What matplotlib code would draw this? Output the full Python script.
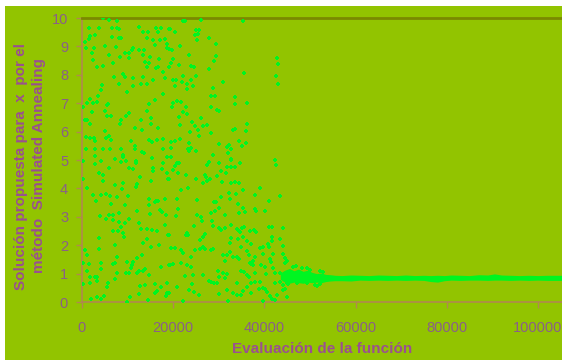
# -*- coding: utf-8 -*-

import matplotlib
matplotlib.use('Agg')
import matplotlib.pyplot as plt
from matplotlib.patches import Rectangle
from matplotlib.ticker import MultipleLocator, FormatStrFormatter


# Proposed solution (x) per function evaluation.
# Evaluations are in thousands.
evals_k = [
    4.68, 5.99, 7.60, 1.53, 3.80, 6.58, 7.75, 8.19, 12.50, 16.15, 17.40, 19.15,
    13.45, 14.55, 16.74, 0.58, 1.75, 1.61, 2.78, 6.50, 8.11, 8.48, 14.33, 15.50,
    17.10, 18.13, 18.57, 16.08, 5.12, 0.88, 2.63, 7.45, 11.26, 10.89, 12.43, 13.60,
    18.71, 2.19, 5.85, 8.33, 9.36, 10.38, 10.23, 13.45, 14.91, 2.34, 6.87, 13.89,
    14.62, 16.81, 3.22, 4.68, 14.33, 16.23, 16.67, 19.00, 17.84, 8.92, 7.02, 9.50,
    11.26, 13.45, 15.64, 18.27, 4.38, 8.19, 11.26, 12.86, 14.18, 4.09, 3.51, 9.94,
    17.69, 1.75, 1.02, 2.34, 3.22, 15.93, 14.76, 0.14, 5.41, 5.70, 4.97, 2.19,
    14.33, 10.23, 9.65, 5.41, 6.29, 0.73, 1.17, 1.75, 8.48, 12.86, 15.06, 8.33,
    15.06, 11.55, 16.67, 4.97, 13.16, 0.88, 2.63, 5.99, 1.75, 5.26, 2.92, 6.29,
    10.82, 14.62, 15.35, 16.52, 17.69, 0.88, 2.78, 4.68, 6.14, 8.62, 11.55, 11.69,
    13.16, 13.60, 17.84, 2.92, 8.92, 8.92, 18.71, 7.31, 15.35,
    22.08, 22.66, 26.02, 35.38, 19.30, 20.32, 25.00, 25.73, 24.85, 25.44, 27.92,
    25.15, 29.39, 21.49, 19.15, 19.74, 23.39, 29.39, 19.88, 28.95, 19.01, 19.59,
    21.35, 23.83, 24.56, 27.78, 35.53, 25.00, 22.08, 20.03, 20.61, 23.98, 30.99,
    21.93, 23.10, 24.27, 20.32, 22.95, 28.66, 28.36, 29.09, 33.63, 20.91, 19.88,
    21.78, 33.48, 36.11, 22.81, 19.74, 22.22, 22.95, 28.22, 29.68, 29.97, 26.17,
    21.35, 24.12, 36.26, 21.49, 24.71, 26.46, 27.34, 25.44, 33.19, 33.63, 35.97,
    23.68, 25.59, 28.22, 21.49, 19.59, 20.32, 23.54, 34.50, 30.12, 32.31, 31.87,
    35.97, 35.09, 19.59, 23.25, 23.83, 25.00, 23.54, 32.60, 32.02, 28.80, 19.59,
    32.75,
    0.14, 2.78, 4.09, 7.16, 8.48, 9.65, 11.84, 11.84, 17.84, 15.64, 15.50, 17.54,
    18.71, 5.85, 10.23, 11.26, 3.80, 4.53, 4.53, 12.72, 0.14, 7.16, 9.06, 8.77,
    12.13, 11.84, 15.20, 18.86, 1.02, 2.48, 3.07, 5.26, 4.24, 6.14, 7.75, 10.09,
    6.43, 9.50, 14.62, 16.67, 16.23, 15.93, 18.13, 14.62, 17.10, 17.54, 18.42,
    11.99, 8.04, 6.87, 5.99, 3.95, 5.26, 6.72, 14.91, 10.38, 8.19, 12.43, 9.36,
    8.62, 13.01, 14.18, 15.35, 16.52, 6.72, 7.89, 9.06, 18.86, 9.21, 3.65, 14.18,
    18.27, 13.30, 7.16, 15.20, 16.96, 0.73, 1.02, 3.65, 7.75, 13.16, 11.99, 9.94,
    11.26, 10.96, 0.29, 1.46, 4.24, 6.72, 7.16, 10.67, 12.57, 13.30, 13.74, 17.40,
    19.00, 1.17, 4.09, 7.75, 9.65, 10.38, 12.13, 3.36, 2.78, 1.75, 7.31, 14.62,
    3.22, 1.75, 0.29, 5.70, 5.41, 12.72, 13.89, 15.93, 17.25, 18.57, 16.52, 16.08,
    18.71, 18.42, 12.57, 3.36, 4.82, 2.04, 4.24, 10.53, 9.94, 14.47,
    20.91, 21.35, 20.47, 20.03, 21.05, 19.01, 22.81, 25.00, 26.46, 27.05, 27.19,
    27.49, 28.07, 27.92, 27.49, 30.12, 32.75, 34.65, 31.73, 32.60, 33.63, 30.56,
    31.58, 29.68, 30.70, 32.60, 33.63, 34.36, 21.78, 23.25, 20.91, 25.29, 28.95,
    29.39, 30.12, 29.24, 28.22, 30.41, 32.31, 32.46, 33.77, 35.38, 38.01, 34.21,
    35.38, 35.82, 34.36, 38.01, 38.16, 21.05, 20.61, 25.15, 26.17, 26.32, 28.51,
    31.43, 28.80, 29.97, 30.56, 31.29, 32.75, 34.06, 34.36, 35.09, 35.53, 34.65,
    24.56, 26.90, 26.61, 25.88, 22.95, 22.81, 23.25, 19.01, 35.38, 36.84, 37.72,
    38.16, 32.60, 34.21, 36.11, 37.14, 34.80, 36.26, 36.55, 38.01, 37.57, 36.84,
    37.57, 32.46, 19.44, 20.32, 21.78, 22.08, 24.85, 25.88, 26.61, 26.90, 28.36,
    28.80, 23.98, 31.00, 31.87, 32.46, 33.19, 33.92, 31.43, 34.36, 21.64, 19.30,
    19.88, 22.95, 23.98, 36.99, 35.53, 34.94, 36.11, 36.70, 38.01, 31.00, 31.87,
    31.43, 30.12, 29.83, 26.46, 22.52, 24.42, 24.12, 28.36, 27.92, 28.95, 29.53,
    33.92, 36.99, 37.87, 36.11, 35.23, 37.14, 20.91, 23.39, 24.56, 25.73, 31.87,
    33.04, 34.06, 30.12, 34.94, 22.08, 32.02, 19.01,
    42.77, 43.06, 42.47, 42.91, 42.33, 42.47, 39.11, 43.43, 40.94, 40.21,
    41.08, 41.66, 44.00, 43.42, 41.66, 41.66, 44.00, 39.03, 39.76, 40.79, 41.08,
    39.76, 41.96, 44.15, 44.44, 41.23, 41.37, 44.88, 39.33, 40.06, 40.35, 41.96,
    42.40, 43.42, 39.03, 42.25, 43.42, 44.88, 44.00, 44.44, 39.76, 40.20, 40.50,
    38.74, 45.03, 41.66, 42.25, 39.62, 42.69, 41.23,
    44.52, 46.35, 46.93, 48.17, 49.27, 50.00, 52.20, 52.93,
    44.15, 45.25, 47.08, 49.27, 51.10, 52.20, 51.47,
]
values = [
    9.99, 9.92, 9.90, 9.64, 9.64, 9.66, 9.64, 9.62, 9.69, 9.66, 9.64, 9.62,
    9.52, 9.50, 9.50, 9.17, 9.38, 9.26, 9.41, 9.34, 9.29, 9.29, 9.29, 9.24,
    9.22, 9.26, 9.10, 9.05, 9.03, 8.94, 8.96, 8.98, 8.96, 8.89, 8.89, 8.89,
    8.94, 8.75, 8.70, 8.63, 8.75, 8.77, 8.58, 8.68, 8.61, 8.51, 8.40, 8.44,
    8.42, 8.54, 8.26, 8.30, 8.26, 8.23, 8.26, 8.28, 8.11, 8.04, 7.93, 7.93,
    7.88, 7.93, 7.83, 7.88, 7.64, 7.67, 7.62, 7.67, 7.67, 7.46, 7.25, 7.39,
    7.34, 7.15, 7.01, 7.01, 7.03, 7.13, 6.96, 6.87, 6.94, 6.96, 6.71, 6.68,
    6.73, 6.64, 6.54, 6.54, 6.54, 6.40, 6.40, 6.28, 6.42, 6.42, 6.49, 6.28,
    6.28, 6.14, 6.14, 6.02, 6.07, 5.81, 5.79, 5.86, 5.77, 5.77, 5.67, 5.70,
    5.67, 5.70, 5.63, 5.70, 5.74, 5.39, 5.39, 5.39, 5.39, 5.39, 5.51, 5.37,
    5.27, 5.25, 5.39, 5.13, 5.18, 5.09, 5.09, 5.04, 5.06,
    9.88, 9.90, 9.92, 9.88, 9.62, 9.50, 9.57, 9.59, 9.41, 9.45, 9.31,
    9.22, 9.08, 9.01, 8.91, 8.89, 8.70, 8.65, 8.56, 8.47, 8.26, 8.40,
    8.35, 8.30, 8.26, 8.21, 8.07, 7.97, 7.95, 7.83, 7.83, 7.81, 7.76,
    7.74, 7.69, 7.62, 7.60, 7.50, 7.53, 7.27, 7.27, 7.22, 7.06, 7.01,
    7.03, 6.96, 6.99, 6.85, 6.85, 6.68, 6.61, 6.85, 6.75, 6.71, 6.49,
    6.52, 6.33, 6.28, 6.24, 6.19, 6.19, 6.24, 6.05, 6.07, 6.10, 6.02,
    5.98, 5.86, 5.95, 5.74, 5.65, 5.67, 5.60, 5.67, 5.56, 5.53, 5.46,
    5.60, 5.51, 5.41, 5.39, 5.41, 5.32, 5.30, 5.37, 5.25, 5.18, 5.11,
    5.02,
    4.98, 4.86, 4.98, 5.02, 4.93, 4.95, 4.98, 4.91, 4.88, 4.72, 4.62, 4.69,
    4.55, 4.72, 4.72, 4.67, 4.53, 4.46, 4.27, 4.41, 4.32, 4.13, 4.20, 3.99,
    4.15, 4.04, 4.25, 4.32, 4.01, 3.76, 3.57, 3.80, 3.78, 3.73, 3.68, 3.73,
    3.45, 3.40, 3.64, 3.57, 3.54, 3.52, 3.64, 3.43, 3.24, 3.17, 3.07,
    3.22, 3.14, 3.05, 3.05, 3.03, 2.93, 2.89, 3.10, 2.91, 2.82, 2.77, 2.77,
    2.63, 2.56, 2.58, 2.53, 2.51, 2.51, 2.51, 2.42, 2.35, 2.30, 2.25, 2.23,
    2.72, 2.06, 2.02, 1.95, 2.02, 1.83, 1.67, 1.88, 1.60, 1.67, 1.55, 1.41,
    1.41, 1.29, 1.36, 1.34, 1.36, 1.34, 1.36, 1.20, 1.10, 1.08, 1.15, 1.24,
    1.31, 1.10, 1.17, 1.03, 1.01, 1.03, 1.01, 0.89, 0.87, 0.89, 0.82, 0.94,
    0.73, 0.66, 0.63, 0.66, 0.54, 0.56, 0.61, 0.63, 0.54, 0.66, 0.37, 0.30,
    0.33, 0.21, 0.28, 0.16, 0.21, 0.09, 0.09, 0.16, 0.00, 0.07,
    4.88, 4.88, 4.79, 4.65, 4.53, 4.32, 4.48, 4.34, 4.20, 4.48, 4.39,
    4.25, 4.34, 4.93, 4.84, 4.91, 5.00, 4.88, 4.74, 4.74, 4.74, 4.60,
    4.53, 4.44, 4.22, 4.20, 4.22, 4.18, 3.94, 4.01, 3.61, 3.59, 3.52,
    3.52, 3.31, 3.22, 3.12, 3.71, 3.85, 3.64, 3.80, 3.94, 3.76, 3.45,
    3.31, 3.17, 3.14, 3.29, 3.22, 3.26, 3.03, 3.05, 3.00, 2.86, 2.86,
    3.05, 2.68, 2.60, 2.53, 2.60, 2.72, 2.58, 2.51, 2.60, 2.65, 2.46,
    2.68, 2.39, 2.30, 2.18, 2.44, 2.37, 2.35, 2.35, 2.30, 2.51, 2.53,
    2.46, 2.25, 2.21, 2.16, 2.04, 1.95, 1.78, 1.64, 1.60, 1.45, 1.38,
    1.31, 2.06, 1.90, 1.90, 1.83, 1.74, 1.83, 1.88, 1.95, 1.85, 1.83,
    1.88, 1.60, 1.67, 1.67, 1.76, 1.57, 1.60, 1.43, 1.50, 1.36, 1.31,
    1.34, 1.31, 1.22, 1.34, 1.06, 1.10, 0.96, 0.87, 1.01, 1.01, 0.98,
    0.84, 0.89, 1.08, 0.94, 0.91, 0.94, 0.63, 0.70, 0.75, 0.66, 0.66,
    0.68, 0.68, 0.70, 0.52, 0.40, 0.33, 0.54, 0.42, 0.35, 0.26, 0.42,
    0.33, 0.26, 0.28, 0.23, 0.05, 0.02, 0.33,
    8.60, 8.39, 7.95, 7.69, 5.01, 4.82, 4.00, 3.73, 3.57, 3.19,
    2.63, 2.63, 2.61, 2.23, 2.30, 2.16, 1.97, 1.90, 1.95, 2.04, 1.95,
    1.69, 1.69, 1.69, 1.55, 1.50, 1.41, 1.43, 1.31, 1.24, 0.99, 1.20,
    1.01, 1.01, 0.70, 0.66, 0.70, 0.66, 0.42, 0.47, 0.49, 0.45, 0.35,
    0.47, 0.19, 0.12, 0.07, 0.02, 0.26, 0.21,
    1.36, 1.24, 1.28, 1.19, 1.19, 1.13, 1.09, 1.04,
    0.60, 0.62, 0.66, 0.68, 0.60, 0.62, 0.57,
]

# Dense converged band after ~43000 evaluations (lower / upper edge)
band_k = [43.5, 44.5, 45.5, 46.5, 47.5, 48.5, 49.5, 50.5, 51.5, 52.5, 53.5,
          54.5, 55.5, 57, 59, 61, 63, 65, 67, 69, 71, 73, 75, 76.5, 78, 79.5,
          81, 83, 85, 87, 89, 90.5, 92, 94, 96, 98, 100, 102, 105.5]
band_lo = [0.80, 0.70, 0.66, 0.70, 0.68, 0.66, 0.70, 0.68, 0.70, 0.68, 0.72,
           0.74, 0.75, 0.75, 0.74, 0.77, 0.76, 0.77, 0.76, 0.77, 0.76, 0.77,
           0.76, 0.72, 0.70, 0.75, 0.77, 0.76, 0.77, 0.77, 0.76, 0.77, 0.77,
           0.76, 0.77, 0.76, 0.77, 0.76, 0.76]
band_hi = [1.02, 1.12, 1.18, 1.10, 1.16, 1.08, 1.12, 1.04, 1.00, 1.02, 0.97,
           0.96, 0.94, 0.93, 0.95, 0.94, 0.93, 0.95, 0.94, 0.93, 0.95, 0.93,
           0.94, 0.93, 0.94, 0.93, 0.95, 0.94, 0.93, 0.96, 0.95, 0.99, 0.95,
           0.94, 0.93, 0.94, 0.93, 0.94, 0.94]

BG = '#92C400'
POINT = '#00F521'
AXIS = '#B08850'
TEXT = '#9A5090'
TICKTXT = '#8A6088'

fig = plt.figure(figsize=(5.62, 3.60), dpi=100, facecolor='white')
# green panel, leaving the thin white strip on the top and left
fig.patches.append(Rectangle((5 / 562, 0), 1, 354 / 360, transform=fig.transFigure,
                             facecolor=BG, edgecolor='none', zorder=-5))

ax = fig.add_axes([82 / 562, 58 / 360, 480 / 562, 284 / 360])
ax.set_facecolor(BG)

ax.fill_between([k * 1000 for k in band_k], band_lo, band_hi,
                color=POINT, linewidth=0, zorder=2)
ax.scatter([k * 1000 for k in evals_k], values, s=10, marker='P',
           color=POINT, linewidths=0, zorder=3)

ax.set_xlim(0, 105300)
ax.set_ylim(0, 10)
ax.xaxis.set_major_locator(MultipleLocator(20000))
ax.yaxis.set_major_locator(MultipleLocator(1))
ax.xaxis.set_major_formatter(FormatStrFormatter('%d'))
ax.yaxis.set_major_formatter(FormatStrFormatter('%d'))

for side in ['left', 'bottom']:
    ax.spines[side].set_color(AXIS)
    ax.spines[side].set_linewidth(1.2)
ax.spines['right'].set_visible(False)
ax.spines['top'].set_color('#7A8A00')
ax.spines['top'].set_linewidth(2)

ax.tick_params(axis='both', colors=AXIS, direction='out', length=4, width=1,
               labelcolor=TICKTXT, labelsize=10.5)
ax.tick_params(axis='x', pad=10)
ax.tick_params(axis='y', pad=6)
for lab in ax.get_xticklabels() + ax.get_yticklabels():
    lab.set_family('Liberation Sans')

fig.text(322 / 562, 11 / 360, 'Evaluación de la función', ha='center',
         va='center', color=TEXT, fontsize=11, fontweight='bold',
         family='Liberation Sans')
fig.text(30 / 562, 194 / 360,
         'Solución propuesta para  x  por el\nmétodo  Simulated Annealing',
         ha='center', va='center', rotation=90, color=TEXT, fontsize=11,
         fontweight='bold', family='Liberation Sans', linespacing=1.3)

fig.savefig('out.png', dpi=100, facecolor='white')
